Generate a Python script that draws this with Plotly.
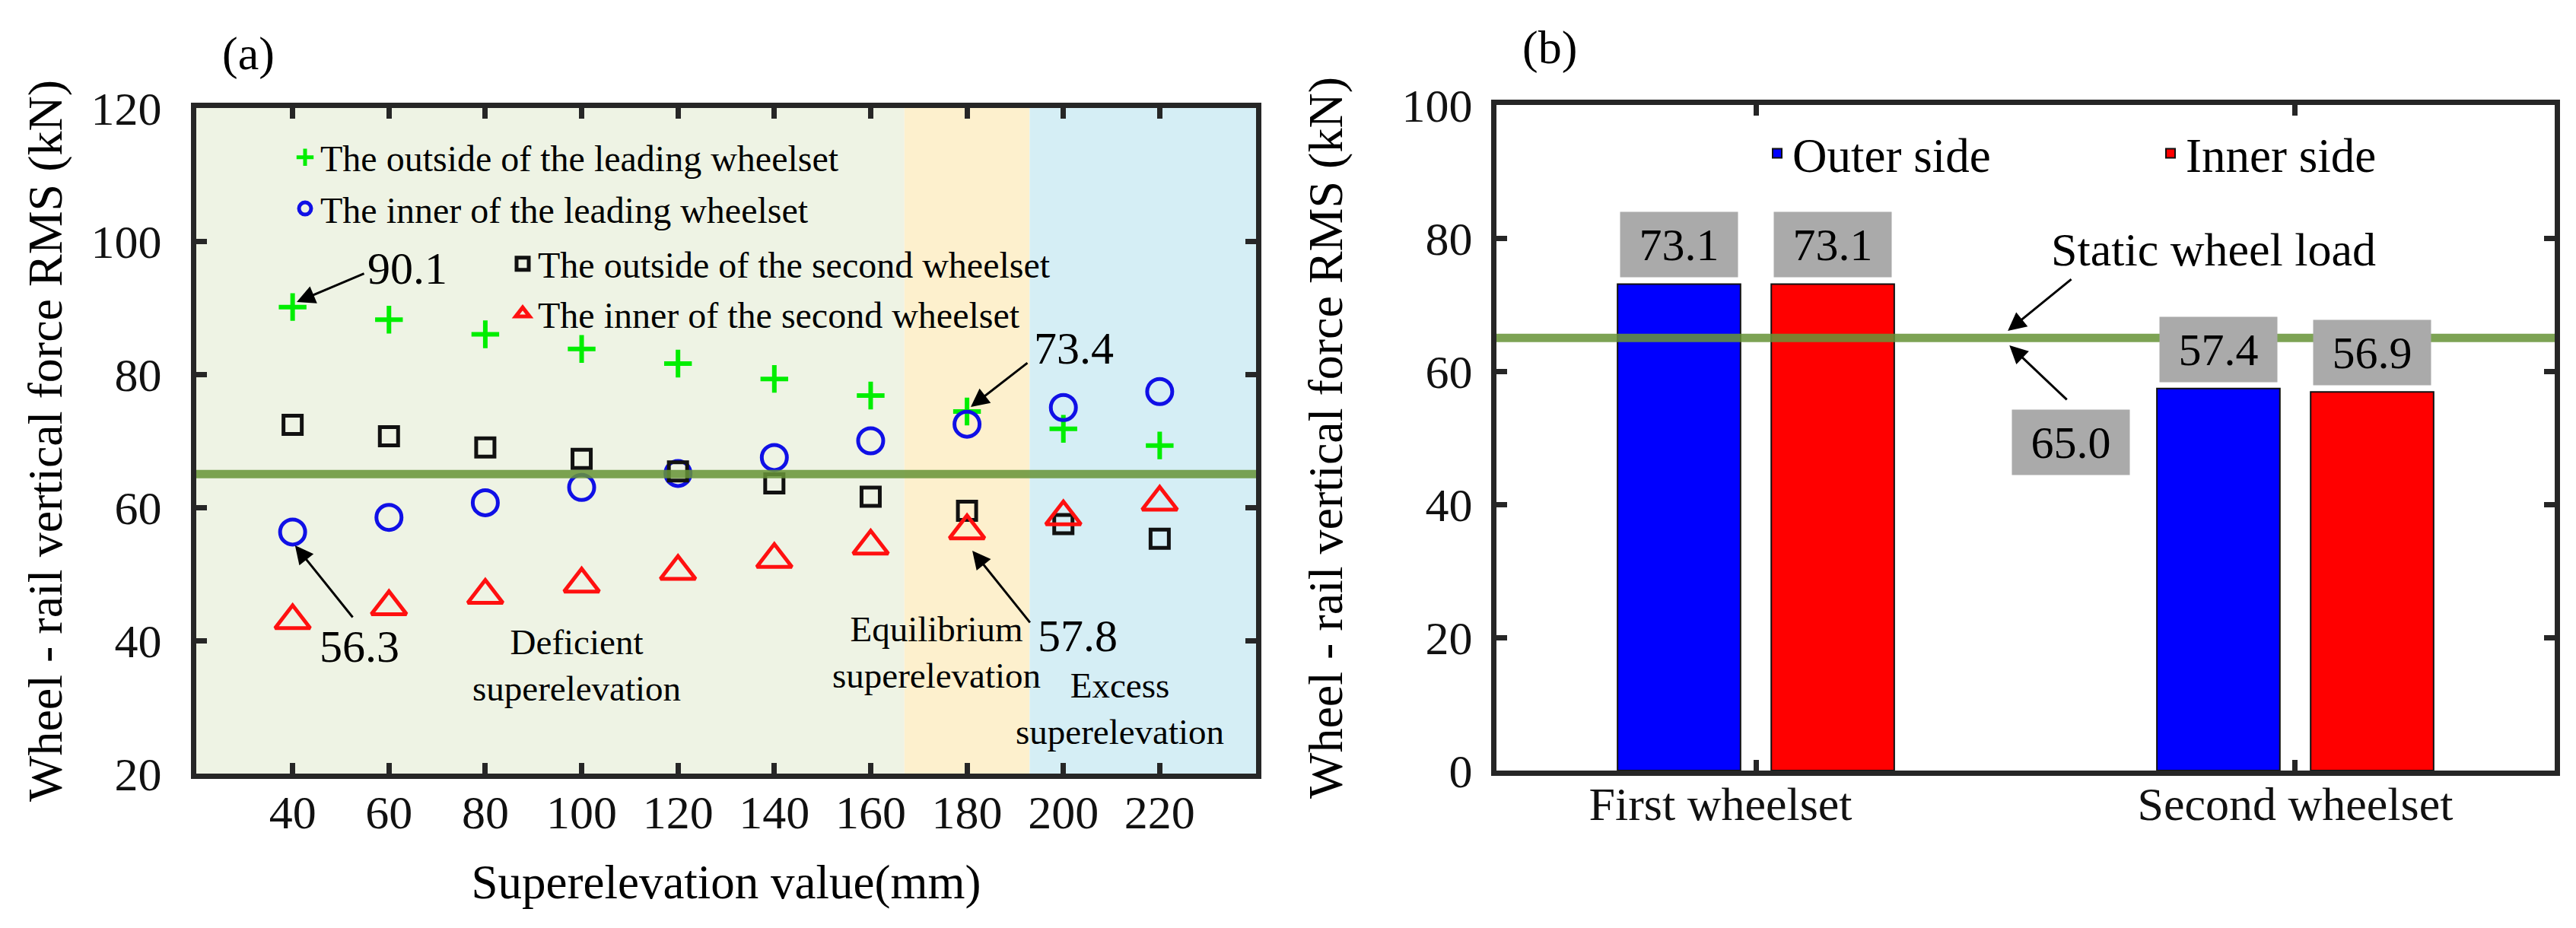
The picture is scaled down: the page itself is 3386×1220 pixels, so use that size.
import plotly.graph_objects as go

# ---------------- data ----------------
superelevation = [40, 60, 80, 100, 120, 140, 160, 180, 200, 220]
outside_leading = [90.1, 88.2, 86.0, 83.8, 81.6, 79.3, 76.8, 74.4, 71.8, 69.3]
inner_leading = [56.3, 58.5, 60.7, 63.0, 65.1, 67.5, 70.0, 72.5, 75.0, 77.4]
outside_second = [72.4, 70.7, 69.0, 67.3, 65.4, 63.6, 61.6, 59.5, 57.5, 55.3]
inner_second = [43.0, 45.1, 46.8, 48.5, 50.4, 52.2, 54.2, 56.5, 58.6, 60.8]

zone_edges = [20, 167, 193, 240]
zone_colors = ["#eef3e4", "#fdf0cd", "#d5eef5"]

wheelsets = ["First wheelset", "Second wheelset"]
wheelset_labels = ["First wheelset" + "\u00a0" * 6, "Second wheelset"]
outer_side = [73.1, 57.4]
inner_side = [73.1, 56.9]
static_load = 65.0

x_ticks = [40, 60, 80, 100, 120, 140, 160, 180, 200, 220]
y_ticks_a = [20, 40, 60, 80, 100, 120]
y_ticks_b = [0, 20, 40, 60, 80, 100]

FONT = "Liberation Serif"
AX = "#262626"
LINE_GREEN = "rgba(104,148,56,0.86)"

fig = go.Figure()

# ---------------- panel (a) ----------------
def mk(symbol, size, width, color):
    return dict(symbol=symbol, size=size, color=color,
                line=dict(width=width, color=color))

fig.add_trace(go.Scatter(
    x=superelevation, y=outside_leading, mode="markers",
    name="The outside of the leading wheelset",
    marker=mk("cross-thin", 26, 6, "#00ee00"),
    xaxis="x", yaxis="y", legend="legend", legendgroup="g1"))
fig.add_trace(go.Scatter(
    x=superelevation, y=inner_leading, mode="markers",
    name="The inner of the leading wheelset",
    marker=mk("circle-open", 33, 5, "#1010e6"),
    xaxis="x", yaxis="y", legend="legend", legendgroup="g2"))
fig.add_trace(go.Scatter(
    x=superelevation, y=outside_second, mode="markers",
    name="The outside of the second wheelset",
    marker=mk("square-open", 24, 5, "#111111"),
    xaxis="x", yaxis="y", legend="legend2", legendgroup="g3"))
fig.add_trace(go.Scatter(
    x=superelevation, y=inner_second, mode="markers",
    name="The inner of the second wheelset",
    marker=mk("triangle-up-open", 40, 5, "#ff1010"),
    xaxis="x", yaxis="y", legend="legend2", legendgroup="g4"))

# ---------------- panel (b) ----------------
fig.add_trace(go.Bar(
    x=wheelsets, y=outer_side, name="Outer side", offsetgroup="o",
    marker=dict(color="#0000ff", line=dict(color="#111111", width=2)),
    xaxis="x2", yaxis="y2", legend="legend3"))
fig.add_trace(go.Bar(
    x=wheelsets, y=inner_side, name="Inner side", offsetgroup="i",
    marker=dict(color="#ff0000", line=dict(color="#111111", width=2)),
    xaxis="x2", yaxis="y2", legend="legend3"))

BARGAP = 0.43
shapes = []
for i in range(3):
    shapes.append(dict(type="rect", xref="x", yref="y domain",
                       x0=zone_edges[i], x1=zone_edges[i + 1], y0=0, y1=1,
                       fillcolor=zone_colors[i], line=dict(width=0), layer="below"))
shapes.append(dict(type="line", xref="x domain", yref="y", x0=0, x1=1,
                   y0=static_load, y1=static_load,
                   line=dict(color=LINE_GREEN, width=11), layer="above"))
shapes.append(dict(type="line", xref="x2 domain", yref="y2", x0=0, x1=1,
                   y0=static_load, y1=static_load,
                   line=dict(color=LINE_GREEN, width=11), layer="above"))

ann = []
def txt(x, y, text, size, xref="x", yref="y", **kw):
    d = dict(x=x, y=y, xref=xref, yref=yref, text=text, showarrow=False,
             xanchor="center", yanchor="middle",
             font=dict(family=FONT, size=size, color="black"))
    d.update(kw)
    ann.append(d)

def arrow(x, y, ax, ay, xref="x", yref="y"):
    ann.append(dict(x=x, y=y, xref=xref, yref=yref, ax=ax, ay=ay, text="",
                    showarrow=True, arrowhead=2, arrowsize=1.6, arrowwidth=3,
                    arrowcolor="black", standoff=0, startstandoff=0))

# panel (a) annotations
txt(63.9, 95.9, "90.1", 60)
arrow(40.85, 90.86, 90, -38)
txt(202.1, 83.9, "73.4", 60)
arrow(180.77, 75.09, 76, -59)
txt(53.8, 39.1, "56.3", 60)
arrow(40.5, 54.29, 77, 96)
txt(203.0, 40.7, "57.8", 60)
arrow(181.1, 53.5, 77, 96)
txt(99.0, 36.3, "Deficient<br>superelevation", 47)
txt(173.7, 38.2, "Equilibrium<br>superelevation", 47)
txt(211.7, 29.8, "Excess<br>superelevation", 47)

# panel (b) annotations
offs = (1 - BARGAP) / 4
for i in range(len(wheelsets)):
    for sgn, vals in ((-1, outer_side), (1, inner_side)):
        txt(i + sgn * offs, vals[i], f"{vals[i]:.1f}", 60, xref="x2", yref="y2",
            yanchor="bottom", yshift=8, bgcolor="#aaaaaa", width=154, height=85,
            borderpad=0, valign="middle")
txt(0.584, 49.3, f"{static_load:.1f}", 60, xref="x2", yref="y2",
    bgcolor="#aaaaaa", width=154, height=85, borderpad=0, valign="middle")
txt(0.848, 78.3, "Static wheel load", 62, xref="x2", yref="y2")
arrow(0.467, 66.06, 85, -69, xref="x2", yref="y2")
arrow(0.470, 63.9, 77, 73, xref="x2", yref="y2")

# panel labels
txt(318 / 3386, 1 - 62 / 1220, "(a)", 62, xref="paper", yref="paper")
txt(2029 / 3386, 1 - 55 / 1220, "(b)", 62, xref="paper", yref="paper")

axis_common = dict(showline=True, linewidth=7, linecolor=AX, mirror="ticks",
                   ticks="inside", tickwidth=7, ticklen=14, tickcolor=AX,
                   showgrid=False, zeroline=False, automargin=False,
                   tickfont=dict(family=FONT, size=62, color="#111111"))

fig.update_layout(
    width=3386, height=1220,
    margin=dict(l=0, r=0, t=0, b=0, pad=0, autoexpand=False),
    paper_bgcolor="white", plot_bgcolor="white",
    font=dict(family=FONT, color="black"),
    barmode="group", bargap=BARGAP, bargroupgap=0.2,
    shapes=shapes, annotations=ann,
    xaxis=dict(domain=[250 / 3386, 1643 / 3386], range=[20, 240],
               tickvals=x_ticks, anchor="y", ticklabelstandoff=-9,
               title=dict(text="Superelevation value(mm)",
                          font=dict(family=FONT, size=63), standoff=38),
               **axis_common),
    yaxis=dict(domain=[211 / 1220, 1086 / 1220], range=[20, 120],
               tickvals=y_ticks_a, anchor="x", ticklabelstandoff=26,
               title=dict(text="Wheel - rail vertical force RMS (kN)",
                          font=dict(family=FONT, size=64), standoff=20),
               **axis_common),
    xaxis2=dict(domain=[1959 / 3386, 3350 / 3386], range=[-0.481, 1.481],
                type="category", anchor="y2", ticklabelstandoff=-16,
                tickvals=wheelsets, ticktext=wheelset_labels,
                **axis_common),
    yaxis2=dict(domain=[215 / 1220, 1090 / 1220], range=[0, 100],
                tickvals=y_ticks_b, anchor="x2", ticklabelstandoff=12,
                title=dict(text="Wheel - rail vertical force RMS (kN)",
                           font=dict(family=FONT, size=64), standoff=60),
                **axis_common),
    legend=dict(x=373 / 3386, y=1 - 161 / 1220, xanchor="left", yanchor="top",
                bgcolor="rgba(0,0,0,0)", font=dict(family=FONT, size=48),
                tracegroupgap=2, itemsizing="trace"),
    legend2=dict(x=659 / 3386, y=1 - 301 / 1220, xanchor="left", yanchor="top",
                 bgcolor="rgba(0,0,0,0)", font=dict(family=FONT, size=48),
                 tracegroupgap=0, itemsizing="trace"),
    legend3=dict(x=2308 / 3386, y=1 - 146 / 1220, xanchor="left", yanchor="top",
                 orientation="h", bgcolor="rgba(0,0,0,0)",
                 font=dict(family=FONT, size=63), entrywidth=472,
                 entrywidthmode="pixels"),
)

fig.write_html("out.html")
